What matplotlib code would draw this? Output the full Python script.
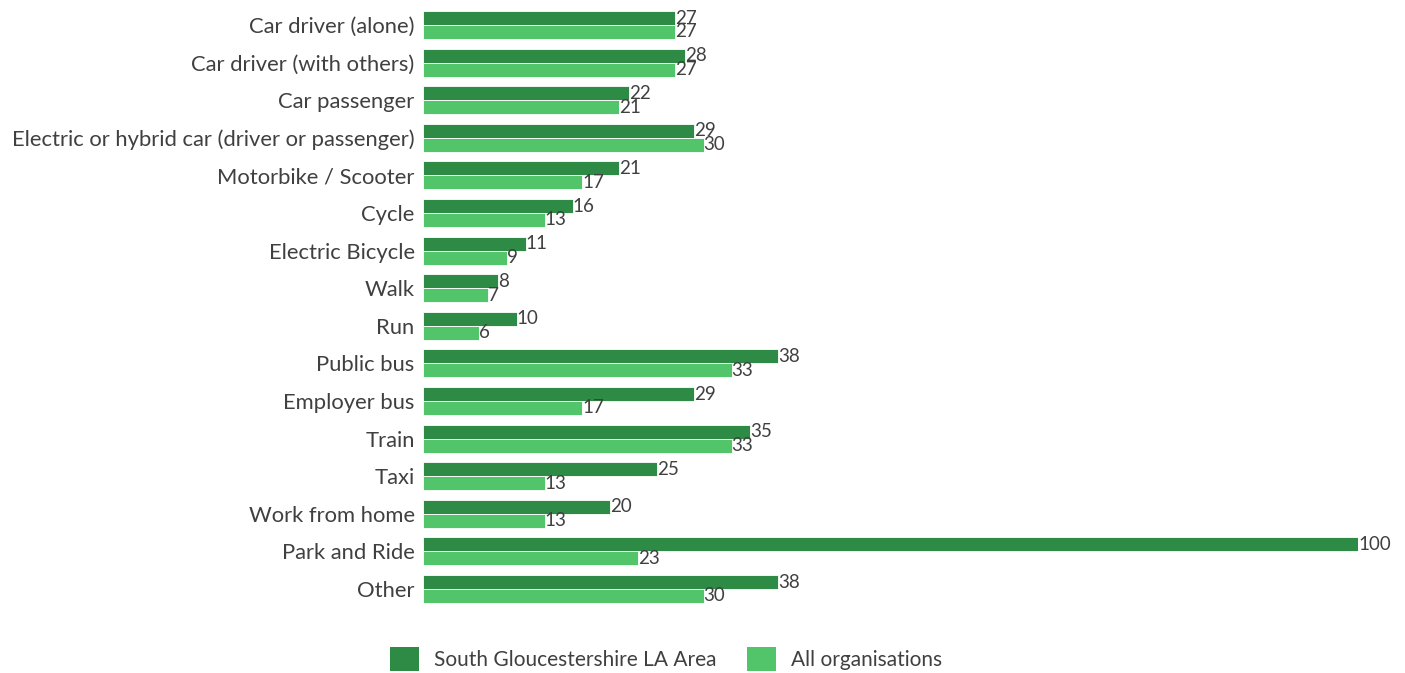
import matplotlib
matplotlib.use("Agg")
import matplotlib.pyplot as plt
import numpy as np
from matplotlib.patches import Patch

categories = ["Car driver (alone)", "Car driver (with others)", "Car passenger",
              "Electric or hybrid car (driver or passenger)", "Motorbike / Scooter", "Cycle",
              "Electric Bicycle", "Walk", "Run", "Public bus", "Employer bus", "Train", "Taxi",
              "Work from home", "Park and Ride", "Other"]
south_glos = [27, 28, 22, 29, 21, 16, 11, 8, 10, 38, 29, 35, 25, 20, 100, 38]
all_orgs = [27, 27, 21, 30, 17, 13, 9, 7, 6, 33, 17, 33, 13, 13, 23, 30]
series_names = ["South Gloucestershire LA Area", "All organisations"]

dark = "#2e8b45"
light = "#52c46a"
txt = "#404040"
plt.rcParams['font.family'] = ['Lato', 'DejaVu Sans']

W, H = 1405, 673
fig = plt.figure(figsize=(W/100, H/100), dpi=100)
ax = fig.add_axes([423/W, 1-607.8/H, (1358-423)/W, (607.8-6.2)/H])

y = np.arange(len(categories))
bh = 0.372
ax.barh(y - bh/2, south_glos, height=bh, color=dark, edgecolor="white", linewidth=0.6)
ax.barh(y + bh/2, all_orgs, height=bh, color=light, edgecolor="white", linewidth=0.6)
for i in range(len(categories)):
    ax.text(south_glos[i], y[i] - bh/2, str(south_glos[i]), va="center", ha="left",
            fontsize=13.5, color=txt)
    ax.text(all_orgs[i], y[i] + bh/2, str(all_orgs[i]), va="center", ha="left",
            fontsize=13.5, color=txt)

ax.set_xlim(0, 100)
ax.set_ylim(len(categories) - 0.5, -0.5)
ax.set_yticks(y)
ax.set_yticklabels(categories, fontsize=15.8, color=txt)
ax.tick_params(axis="y", length=0, pad=6)
ax.set_xticks([])
for s in ax.spines.values():
    s.set_visible(False)

handles = [Patch(facecolor=dark), Patch(facecolor=light)]
fig.legend(handles, series_names, loc="center", bbox_to_anchor=(666/W, 1-659/H),
           ncol=2, frameon=False, fontsize=15, handlelength=1.4, handleheight=1.4,
           columnspacing=1.5, handletextpad=0.7, labelcolor=txt)

fig.savefig("out.png", dpi=100)
